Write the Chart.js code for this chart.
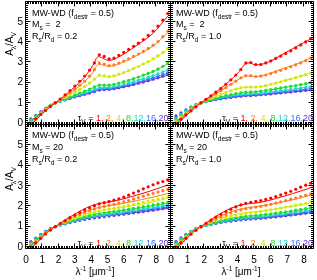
<!DOCTYPE html>
<html>
<head>
<meta charset="utf-8">
<script src="https://cdn.jsdelivr.net/npm/chart.js@4"></script>
<style>
  html, body { margin: 0; padding: 0; background: #fff; overflow: hidden; }
  body { width: 317px; height: 280px; position: relative; }
  canvas { position: absolute; }
  .txt { position: absolute; font-family: "Liberation Sans", Arial, sans-serif; color: #000; white-space: nowrap; }
  .note { font-size: 9px; line-height: 11.6px; }
  .leg { font-size: 9px; line-height: 11px; text-align: right; }
  .ttl { font-size: 10px; line-height: 12px; }
  sub { font-size: 6.5px; line-height: 0; vertical-align: -2.5px; }
  sup { font-size: 6.5px; line-height: 0; vertical-align: 4px; }
</style>
</head>
<body>
<canvas id="tl" width="183" height="137" style="left:0;top:0"></canvas>
<canvas id="tr" width="156" height="137" style="left:161px;top:0"></canvas>
<canvas id="bl" width="183" height="167" style="left:0;top:113px"></canvas>
<canvas id="br" width="156" height="167" style="left:161px;top:113px"></canvas>

<div class="txt note" style="left:32px;top:7.8px">MW-WD (f<sub>destr</sub> = 0.5)<br>M<sub>s</sub> =&nbsp; 2<br>R<sub>s</sub>/R<sub>d</sub> = 0.2</div>
<div class="txt note" style="left:176px;top:7.8px">MW-WD (f<sub>destr</sub> = 0.5)<br>M<sub>s</sub> =&nbsp; 2<br>R<sub>s</sub>/R<sub>d</sub> = 1.0</div>
<div class="txt note" style="left:32px;top:130.4px">MW-WD (f<sub>destr</sub> = 0.5)<br>M<sub>s</sub> = 20<br>R<sub>s</sub>/R<sub>d</sub> = 0.2</div>
<div class="txt note" style="left:176px;top:130.4px">MW-WD (f<sub>destr</sub> = 0.5)<br>M<sub>s</sub> = 20<br>R<sub>s</sub>/R<sub>d</sub> = 1.0</div>

<div class="txt leg" id="leg-tl" style="right:148.5px;top:113px"></div>
<div class="txt leg" id="leg-tr" style="right:4px;top:113px"></div>
<div class="txt leg" id="leg-bl" style="right:148.5px;top:238.4px"></div>
<div class="txt leg" id="leg-br" style="right:4px;top:238.4px"></div>

<div class="txt ttl" style="left:10px;top:44px;transform:translate(-50%,-50%) rotate(-90deg)">A<sub>λ</sub>/A<sub>V</sub></div>
<div class="txt ttl" style="left:10px;top:179px;transform:translate(-50%,-50%) rotate(-90deg)">A<sub>λ</sub>/A<sub>V</sub></div>
<div class="txt ttl" style="left:95px;top:266px;transform:translateX(-50%)">λ<sup>-1</sup> [μm<sup>-1</sup>]</div>
<div class="txt ttl" style="left:241px;top:266px;transform:translateX(-50%)">λ<sup>-1</sup> [μm<sup>-1</sup>]</div>

<script>
'use strict';

// optical depths and the colour used for each
const TAU = ['1', '2', '4', '8', '12', '16', '20'];
const TAU_COLORS = ['#ff0000', '#ff7a1a', '#d2ea00', '#1edc2a', '#18dcd6', '#3a70ff', '#6a30d8'];

// λ^-1 grid of the dotted series and of the solid curves
const DOT_X = [0.3, 0.6, 0.9, 1.2, 1.5, 1.8, 2.1, 2.4, 2.7, 3.0, 3.3, 3.6, 3.9, 4.2, 4.5,
               4.8, 5.1, 5.4, 5.7, 6.0, 6.3, 6.6, 6.9, 7.2, 7.5, 7.8, 8.1, 8.4, 8.7];
const LINE_X = [0.3, 0.9, 1.4, 1.8, 2.4, 3.0, 3.6, 4.1, 4.4, 4.7, 5.1, 5.8, 6.8, 7.8, 8.7];

const Y_TICKS = [0, 1, 2, 3, 4, 5];
const X_TICKS = [0, 1, 2, 3, 4, 5, 6, 7, 8];

// Ms = 2, Rs/Rd = 0.2
const TL_DOTS = [
    [-0.02, 0.2, 0.42, 0.62, 0.82, 1.0, 1.19, 1.4, 1.6, 1.83, 2.07, 2.33, 2.62, 2.98, 3.38, 3.3, 3.18, 3.22, 3.35, 3.5, 3.65, 3.8, 3.96, 4.14, 4.34, 4.56, 4.8, 5.1, 5.43],
    [0.0, 0.22, 0.44, 0.64, 0.83, 1.0, 1.16, 1.33, 1.5, 1.68, 1.87, 2.08, 2.32, 2.65, 2.98, 2.92, 2.85, 2.88, 2.97, 3.07, 3.18, 3.3, 3.42, 3.55, 3.7, 3.86, 4.04, 4.28, 4.55],
    [0.05, 0.26, 0.47, 0.67, 0.85, 1.0, 1.13, 1.26, 1.39, 1.53, 1.67, 1.82, 1.98, 2.18, 2.38, 2.34, 2.3, 2.34, 2.42, 2.5, 2.6, 2.7, 2.8, 2.92, 3.04, 3.18, 3.33, 3.5, 3.7],
    [0.1, 0.3, 0.5, 0.69, 0.86, 1.0, 1.1, 1.2, 1.29, 1.38, 1.48, 1.58, 1.68, 1.79, 1.88, 1.88, 1.88, 1.92, 1.98, 2.05, 2.12, 2.2, 2.28, 2.37, 2.46, 2.56, 2.67, 2.81, 2.97],
    [0.14, 0.33, 0.52, 0.7, 0.86, 1.0, 1.09, 1.18, 1.26, 1.34, 1.42, 1.5, 1.58, 1.67, 1.75, 1.76, 1.77, 1.81, 1.86, 1.92, 1.98, 2.05, 2.12, 2.19, 2.27, 2.35, 2.44, 2.54, 2.65],
    [0.17, 0.35, 0.53, 0.71, 0.87, 1.0, 1.08, 1.16, 1.24, 1.31, 1.38, 1.45, 1.52, 1.61, 1.68, 1.7, 1.72, 1.75, 1.8, 1.85, 1.91, 1.97, 2.03, 2.1, 2.17, 2.25, 2.33, 2.41, 2.5],
    [0.2, 0.37, 0.55, 0.72, 0.87, 1.0, 1.08, 1.15, 1.22, 1.29, 1.35, 1.42, 1.48, 1.56, 1.63, 1.65, 1.67, 1.7, 1.75, 1.8, 1.85, 1.91, 1.97, 2.03, 2.1, 2.17, 2.24, 2.32, 2.4]
];
const TL_LINES = [
    [-0.1, 0.38, 0.74, 1.0, 1.38, 1.8, 2.28, 2.85, 3.28, 3.22, 3.1, 3.32, 3.85, 4.45, 5.3],
    [-0.08, 0.4, 0.76, 1.0, 1.32, 1.66, 2.05, 2.5, 2.88, 2.88, 2.8, 2.96, 3.35, 3.82, 4.47],
    [-0.04, 0.44, 0.78, 1.0, 1.25, 1.52, 1.8, 2.08, 2.3, 2.33, 2.28, 2.42, 2.78, 3.16, 3.66],
    [0.02, 0.47, 0.81, 1.0, 1.19, 1.38, 1.57, 1.74, 1.85, 1.88, 1.87, 1.98, 2.25, 2.55, 2.94],
    [0.05, 0.49, 0.82, 1.0, 1.17, 1.33, 1.49, 1.63, 1.72, 1.76, 1.76, 1.86, 2.1, 2.34, 2.62],
    [0.07, 0.5, 0.83, 1.0, 1.16, 1.3, 1.44, 1.57, 1.66, 1.7, 1.71, 1.8, 2.0, 2.24, 2.47],
    [0.09, 0.52, 0.84, 1.0, 1.15, 1.28, 1.41, 1.53, 1.61, 1.65, 1.66, 1.75, 1.94, 2.16, 2.37]
];

// Ms = 2, Rs/Rd = 1.0
const TR_DOTS = [
    [-0.05, 0.18, 0.4, 0.6, 0.8, 1.0, 1.17, 1.35, 1.53, 1.72, 1.92, 2.14, 2.38, 2.65, 2.98, 3.0, 2.9, 2.9, 2.98, 3.08, 3.2, 3.32, 3.45, 3.58, 3.72, 3.87, 4.02, 4.18, 4.35],
    [0.0, 0.22, 0.44, 0.64, 0.83, 1.0, 1.15, 1.3, 1.45, 1.6, 1.76, 1.92, 2.08, 2.24, 2.35, 2.35, 2.3, 2.32, 2.38, 2.45, 2.53, 2.61, 2.7, 2.79, 2.88, 2.98, 3.09, 3.22, 3.4],
    [0.08, 0.3, 0.5, 0.69, 0.86, 1.0, 1.11, 1.22, 1.32, 1.42, 1.51, 1.6, 1.68, 1.75, 1.78, 1.78, 1.78, 1.81, 1.86, 1.92, 1.98, 2.04, 2.11, 2.18, 2.25, 2.32, 2.4, 2.49, 2.6],
    [0.15, 0.36, 0.55, 0.72, 0.88, 1.0, 1.08, 1.16, 1.23, 1.3, 1.36, 1.41, 1.46, 1.5, 1.53, 1.54, 1.55, 1.58, 1.62, 1.66, 1.7, 1.74, 1.78, 1.82, 1.86, 1.9, 1.95, 2.0, 2.06],
    [0.22, 0.41, 0.59, 0.75, 0.89, 1.0, 1.07, 1.14, 1.2, 1.26, 1.31, 1.35, 1.39, 1.42, 1.44, 1.45, 1.47, 1.49, 1.52, 1.55, 1.58, 1.61, 1.64, 1.67, 1.7, 1.73, 1.77, 1.81, 1.85],
    [0.28, 0.45, 0.62, 0.77, 0.9, 1.0, 1.06, 1.12, 1.18, 1.23, 1.27, 1.31, 1.34, 1.37, 1.39, 1.4, 1.42, 1.44, 1.46, 1.49, 1.52, 1.54, 1.57, 1.6, 1.63, 1.66, 1.69, 1.72, 1.75],
    [0.35, 0.5, 0.65, 0.79, 0.9, 1.0, 1.06, 1.11, 1.16, 1.2, 1.24, 1.27, 1.3, 1.33, 1.35, 1.36, 1.38, 1.4, 1.42, 1.44, 1.47, 1.49, 1.52, 1.54, 1.57, 1.59, 1.62, 1.64, 1.67]
];
const TR_LINES = [
    [-0.12, 0.36, 0.72, 1.0, 1.35, 1.72, 2.14, 2.55, 2.88, 2.98, 2.88, 3.0, 3.45, 3.9, 4.3],
    [-0.1, 0.38, 0.74, 1.0, 1.29, 1.6, 1.92, 2.18, 2.3, 2.33, 2.3, 2.42, 2.72, 3.0, 3.36],
    [-0.06, 0.41, 0.77, 1.0, 1.21, 1.41, 1.6, 1.72, 1.76, 1.78, 1.78, 1.86, 2.1, 2.32, 2.56],
    [-0.02, 0.44, 0.8, 1.0, 1.15, 1.29, 1.4, 1.48, 1.52, 1.53, 1.55, 1.62, 1.76, 1.9, 2.04],
    [0.01, 0.46, 0.81, 1.0, 1.13, 1.25, 1.34, 1.4, 1.43, 1.44, 1.46, 1.52, 1.62, 1.73, 1.83],
    [0.03, 0.47, 0.82, 1.0, 1.12, 1.22, 1.3, 1.35, 1.38, 1.39, 1.41, 1.46, 1.55, 1.64, 1.73],
    [0.05, 0.48, 0.83, 1.0, 1.11, 1.2, 1.27, 1.31, 1.34, 1.35, 1.37, 1.42, 1.5, 1.58, 1.65]
];

// Ms = 20, Rs/Rd = 0.2
const BL_DOTS = [
    [0.0, 0.2, 0.42, 0.64, 0.83, 1.0, 1.15, 1.3, 1.44, 1.57, 1.7, 1.82, 1.93, 2.03, 2.12, 2.18, 2.24, 2.3, 2.37, 2.45, 2.55, 2.65, 2.75, 2.86, 2.96, 3.06, 3.15, 3.22, 3.3],
    [0.05, 0.25, 0.46, 0.66, 0.84, 1.0, 1.13, 1.26, 1.38, 1.5, 1.6, 1.7, 1.79, 1.87, 1.94, 2.0, 2.05, 2.1, 2.16, 2.22, 2.28, 2.35, 2.42, 2.5, 2.57, 2.64, 2.7, 2.77, 2.83],
    [0.1, 0.3, 0.5, 0.69, 0.86, 1.0, 1.11, 1.22, 1.32, 1.41, 1.5, 1.58, 1.65, 1.71, 1.77, 1.82, 1.86, 1.9, 1.95, 2.0, 2.05, 2.1, 2.15, 2.2, 2.25, 2.3, 2.35, 2.41, 2.47],
    [0.15, 0.35, 0.54, 0.72, 0.87, 1.0, 1.1, 1.19, 1.27, 1.35, 1.42, 1.48, 1.54, 1.59, 1.63, 1.67, 1.7, 1.74, 1.78, 1.82, 1.86, 1.9, 1.94, 1.98, 2.02, 2.07, 2.11, 2.16, 2.2],
    [0.19, 0.38, 0.57, 0.74, 0.88, 1.0, 1.09, 1.17, 1.24, 1.31, 1.37, 1.43, 1.48, 1.52, 1.56, 1.59, 1.62, 1.65, 1.69, 1.73, 1.77, 1.81, 1.84, 1.88, 1.92, 1.96, 2.0, 2.04, 2.08],
    [0.23, 0.41, 0.59, 0.75, 0.89, 1.0, 1.08, 1.15, 1.22, 1.28, 1.34, 1.39, 1.43, 1.47, 1.51, 1.54, 1.57, 1.6, 1.63, 1.67, 1.7, 1.74, 1.77, 1.81, 1.84, 1.88, 1.92, 1.96, 2.0],
    [0.27, 0.44, 0.61, 0.77, 0.9, 1.0, 1.08, 1.14, 1.2, 1.26, 1.31, 1.35, 1.39, 1.43, 1.46, 1.49, 1.52, 1.55, 1.58, 1.61, 1.65, 1.68, 1.71, 1.74, 1.78, 1.81, 1.85, 1.89, 1.93]
];
const BL_LINES = [
    [-0.1, 0.4, 0.78, 1.0, 1.33, 1.62, 1.88, 2.05, 2.12, 2.17, 2.22, 2.33, 2.55, 2.8, 3.05],
    [-0.06, 0.44, 0.8, 1.0, 1.28, 1.52, 1.73, 1.86, 1.93, 1.98, 2.03, 2.12, 2.28, 2.45, 2.63],
    [-0.02, 0.47, 0.82, 1.0, 1.23, 1.43, 1.6, 1.71, 1.77, 1.82, 1.86, 1.94, 2.06, 2.22, 2.4],
    [0.02, 0.5, 0.84, 1.0, 1.19, 1.36, 1.5, 1.6, 1.64, 1.68, 1.72, 1.79, 1.9, 2.03, 2.16],
    [0.05, 0.52, 0.85, 1.0, 1.17, 1.32, 1.45, 1.53, 1.57, 1.61, 1.65, 1.72, 1.82, 1.93, 2.04],
    [0.07, 0.53, 0.86, 1.0, 1.16, 1.29, 1.41, 1.49, 1.53, 1.56, 1.6, 1.66, 1.76, 1.86, 1.96],
    [0.09, 0.54, 0.86, 1.0, 1.15, 1.27, 1.38, 1.45, 1.49, 1.52, 1.55, 1.61, 1.7, 1.8, 1.9]
];

// Ms = 20, Rs/Rd = 1.0
const BR_DOTS = [
    [-0.02, 0.2, 0.42, 0.63, 0.82, 1.0, 1.16, 1.32, 1.47, 1.61, 1.74, 1.86, 1.97, 2.07, 2.15, 2.2, 2.24, 2.28, 2.34, 2.4, 2.48, 2.56, 2.65, 2.74, 2.84, 2.94, 3.04, 3.14, 3.24],
    [0.03, 0.24, 0.45, 0.65, 0.84, 1.0, 1.13, 1.26, 1.37, 1.48, 1.58, 1.67, 1.75, 1.82, 1.88, 1.92, 1.96, 2.0, 2.05, 2.1, 2.16, 2.22, 2.28, 2.35, 2.41, 2.48, 2.54, 2.61, 2.68],
    [0.08, 0.29, 0.5, 0.69, 0.86, 1.0, 1.11, 1.2, 1.29, 1.37, 1.44, 1.5, 1.56, 1.61, 1.65, 1.68, 1.71, 1.75, 1.79, 1.83, 1.87, 1.91, 1.96, 2.0, 2.05, 2.1, 2.15, 2.22, 2.3],
    [0.14, 0.35, 0.55, 0.72, 0.88, 1.0, 1.08, 1.15, 1.22, 1.28, 1.33, 1.38, 1.42, 1.46, 1.49, 1.52, 1.54, 1.57, 1.6, 1.63, 1.66, 1.7, 1.73, 1.77, 1.81, 1.85, 1.89, 1.95, 2.02],
    [0.18, 0.39, 0.58, 0.75, 0.89, 1.0, 1.07, 1.13, 1.19, 1.24, 1.29, 1.33, 1.37, 1.4, 1.43, 1.45, 1.48, 1.5, 1.53, 1.56, 1.59, 1.62, 1.65, 1.69, 1.72, 1.76, 1.8, 1.85, 1.9],
    [0.22, 0.42, 0.6, 0.76, 0.89, 1.0, 1.07, 1.12, 1.17, 1.22, 1.26, 1.3, 1.33, 1.36, 1.38, 1.4, 1.42, 1.45, 1.47, 1.5, 1.53, 1.56, 1.59, 1.62, 1.65, 1.68, 1.72, 1.76, 1.8],
    [0.26, 0.45, 0.62, 0.77, 0.9, 1.0, 1.06, 1.11, 1.16, 1.2, 1.24, 1.27, 1.3, 1.33, 1.35, 1.37, 1.39, 1.41, 1.43, 1.46, 1.48, 1.51, 1.54, 1.57, 1.6, 1.63, 1.66, 1.7, 1.74]
];
const BR_LINES = [
    [-0.12, 0.38, 0.77, 1.0, 1.35, 1.65, 1.9, 2.05, 2.1, 2.13, 2.16, 2.27, 2.5, 2.75, 3.0],
    [-0.1, 0.41, 0.79, 1.0, 1.29, 1.53, 1.73, 1.85, 1.9, 1.94, 1.98, 2.07, 2.23, 2.42, 2.62],
    [-0.06, 0.45, 0.81, 1.0, 1.22, 1.41, 1.55, 1.64, 1.68, 1.71, 1.74, 1.81, 1.93, 2.07, 2.24],
    [-0.02, 0.48, 0.83, 1.0, 1.16, 1.3, 1.41, 1.47, 1.5, 1.53, 1.55, 1.6, 1.7, 1.83, 1.97],
    [0.01, 0.5, 0.84, 1.0, 1.14, 1.26, 1.35, 1.41, 1.44, 1.46, 1.48, 1.53, 1.62, 1.74, 1.86],
    [0.03, 0.51, 0.85, 1.0, 1.13, 1.24, 1.32, 1.37, 1.4, 1.42, 1.44, 1.48, 1.57, 1.67, 1.78],
    [0.05, 0.52, 0.86, 1.0, 1.12, 1.22, 1.29, 1.34, 1.36, 1.38, 1.4, 1.44, 1.52, 1.62, 1.72]
];

const FONT = '"Liberation Sans", Arial, sans-serif';

function pairs(xs, ys) {
    return xs.map((x, i) => ({ x: x, y: ys[i] }));
}

// frame with inward major/minor ticks on all four sides, like an IDL plot box
const frameTicks = {
    id: 'frameTicks',
    afterDatasetsDraw(chart) {
        const { ctx, chartArea: a, scales: { x, y } } = chart;
        const L = Math.round(a.left) - 0.5, R = Math.round(a.right) - 0.5;
        const T = Math.round(a.top) - 0.5, B = Math.round(a.bottom) - 0.5;
        ctx.save();
        ctx.strokeStyle = '#000';
        ctx.lineWidth = 1;
        ctx.beginPath();
        for (let i = 0; i <= Math.floor(x.max * 10 + 1e-6); i++) {
            const px = Math.round(x.getPixelForValue(i / 10)) - 0.5;
            const len = i % 10 === 0 ? 5 : 2.5;
            ctx.moveTo(px, B); ctx.lineTo(px, B - len);
            ctx.moveTo(px, T); ctx.lineTo(px, T + len);
        }
        for (let i = Math.ceil(y.min * 10 - 1e-6); i <= Math.floor(y.max * 10 + 1e-6); i++) {
            const py = Math.round(y.getPixelForValue(i / 10)) - 0.5;
            const len = i % 10 === 0 ? 5 : 2.5;
            ctx.moveTo(L, py); ctx.lineTo(L + len, py);
            ctx.moveTo(R, py); ctx.lineTo(R - len, py);
        }
        ctx.stroke();
        ctx.strokeRect(L, T, R - L, B - T);
        ctx.restore();
    }
};

function makePanel(id, dots, lines, cfg) {
    const datasets = [];
    dots.forEach((ys, k) => datasets.push({
        data: pairs(DOT_X, ys),
        showLine: false,
        pointRadius: 1.6,
        pointBorderWidth: 0,
        pointBackgroundColor: TAU_COLORS[k],
        pointBorderColor: TAU_COLORS[k]
    }));
    lines.forEach((ys, k) => datasets.push({
        data: pairs(LINE_X, ys),
        showLine: true,
        borderColor: TAU_COLORS[k],
        borderWidth: 1,
        pointRadius: 0,
        tension: 0.35
    }));

    new Chart(document.getElementById(id), {
        type: 'scatter',
        data: { datasets },
        options: {
            responsive: false,
            animation: false,
            events: [],
            layout: { padding: cfg.padding, autoPadding: false },
            plugins: { legend: { display: false }, tooltip: { enabled: false } },
            scales: {
                x: {
                    type: 'linear', min: 0, max: cfg.xMax, bounds: 'data',
                    display: cfg.showX,
                    grid: { display: false, drawTicks: false },
                    border: { display: false },
                    afterBuildTicks: s => { s.ticks = X_TICKS.map(v => ({ value: v })); },
                    afterFit: s => { if (cfg.showX) s.height = 28; s.paddingLeft = 0; s.paddingRight = 0; },
                    ticks: { color: '#000', padding: 5, maxRotation: 0, autoSkip: false, font: { family: FONT, size: 10 } }
                },
                y: {
                    type: 'linear', min: -0.1, max: 6.0, bounds: 'data',
                    display: cfg.showY,
                    grid: { display: false, drawTicks: false },
                    border: { display: false },
                    afterBuildTicks: s => { s.ticks = Y_TICKS.map(v => ({ value: v })); },
                    afterFit: s => { if (cfg.showY) s.width = 26; s.paddingTop = 0; s.paddingBottom = 0; },
                    ticks: { color: '#000', padding: 3, autoSkip: false, font: { family: FONT, size: 10 } }
                }
            }
        },
        plugins: [frameTicks]
    });
}

makePanel('tl', TL_DOTS, TL_LINES, { xMax: 8.9, showX: false, showY: true, padding: { left: 0, right: 12, top: 2, bottom: 12 } });
makePanel('tr', TR_DOTS, TR_LINES, { xMax: 8.6, showX: false, showY: false, padding: { left: 10, right: 3, top: 2, bottom: 12 } });
makePanel('bl', BL_DOTS, BL_LINES, { xMax: 8.9, showX: true, showY: true, padding: { left: 0, right: 12, top: 12, bottom: 3 } });
makePanel('br', BR_DOTS, BR_LINES, { xMax: 8.6, showX: true, showY: false, padding: { left: 10, right: 3, top: 12, bottom: 3 } });

// τV legend in each panel, one colour per optical depth
function legendHtml() {
    const parts = TAU.map((t, k) => {
        const sep = k === TAU.length - 1 ? '' : (k < 3 ? ', ' : ',');
        return '<span style="color:' + TAU_COLORS[k] + '">' + t + sep + '</span>';
    });
    return 'τ<sub>V</sub> = ' + parts.join('');
}
['leg-tl', 'leg-tr', 'leg-bl', 'leg-br'].forEach(id => {
    document.getElementById(id).innerHTML = legendHtml();
});
</script>
</body>
</html>
